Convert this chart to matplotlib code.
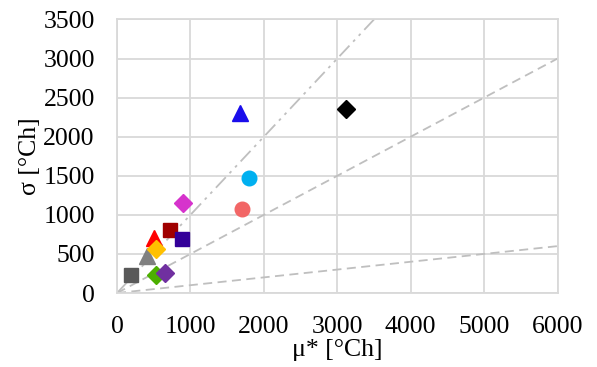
import numpy as np
import matplotlib.pyplot as plt

plt.rcParams['font.family'] = ['Liberation Serif', 'DejaVu Serif']

# data points (mu*, sigma), one per marker
mu = [187, 413, 504, 527, 527, 654, 722, 881, 903, 1676, 1698, 1798, 3115]
sigma = [234, 477, 700, 562, 230, 260, 806, 690, 1147, 2298, 1070, 1467, 2353]
markers = ['s', '^', '^', 'D', 'D', 'D', 's', 's', 'D', '^', 'o', 'o', 'D']
colors = ['#595959', '#808080', '#FF0000', '#FFC000', '#4CAF00', '#7030A0',
          '#A00000', '#330099', '#D633CC', '#1A0DEB', '#F26666', '#00B0F0', '#000000']

# reference lines sigma/mu* ratios
ratios = [1.0, 0.5, 0.1]
styles = [(0, (8, 3, 1.5, 3, 1.5, 3)), (0, (5, 3)), (0, (5, 3))]

fig = plt.figure(figsize=(5.97, 3.67), dpi=100)
ax = fig.add_axes([0.196, 0.2016, 0.738, 0.7454])

xx = np.array([0, 6000])
for r, ls in zip(ratios, styles):
    ax.plot(xx, r * xx, color='#BFBFBF', lw=1.3, linestyle=ls, zorder=2)

sizes = {'s': 10.5, '^': 11, 'D': 9.5, 'o': 10.5}
for x, y, m, c in zip(mu, sigma, markers, colors):
    ax.plot(x, y, marker=m, color=c, markersize=sizes[m], linestyle='none', zorder=3)

ax.set_xlim(0, 6000)
ax.set_ylim(0, 3500)
ax.set_xticks(range(0, 6001, 1000))
ax.set_yticks(range(0, 3501, 500))
ax.grid(True, color='#D9D9D9', lw=1.3, zorder=0)
ax.set_axisbelow(True)
for s in ax.spines.values():
    s.set_color('#D9D9D9')
    s.set_linewidth(1.3)
ax.tick_params(length=0, labelsize=18.5)
ax.tick_params(axis='x', pad=16.5)
ax.tick_params(axis='y', pad=16)
ax.set_xlabel('μ* [°Ch]', fontsize=18.5, labelpad=1)
ax.set_ylabel('σ [°Ch]', fontsize=18.5, labelpad=2)

fig.savefig('out.png', dpi=100)
